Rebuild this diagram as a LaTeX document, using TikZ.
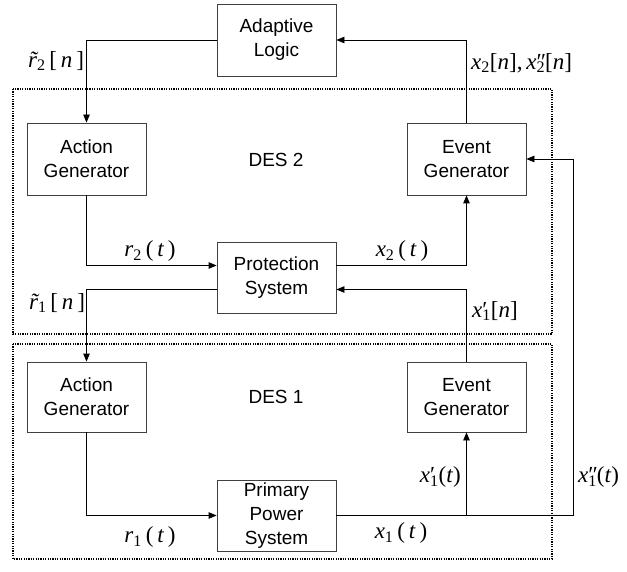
\documentclass[tikz,border=0pt]{standalone}
\usepackage{fontspec}
\setmainfont{Liberation Sans}
\newfontfamily\tms{Liberation Serif}
\usetikzlibrary{arrows.meta}
\newcommand\pss[2]{\rlap{#1}\textsubscript{#2}}
\newcommand\tlr{\textit{\rlap{\hspace{0.06em}\char"02DC}r}}
\begin{document}
\begin{tikzpicture}[x=1pt,y=-1pt,
  blk/.style={draw=black!75, line width=0.8pt, minimum width=119pt, minimum height=71pt,
    align=center, font=\fontsize{19}{24}\selectfont, inner sep=0pt},
  arr/.style={-{Triangle[length=8pt,width=6.5pt]}, line width=0.8pt},
  lbl/.style={font=\tms\fontsize{23}{26}\selectfont, inner sep=0pt},
  deslbl/.style={font=\fontsize{19}{24}\selectfont, inner sep=0pt},
  grp/.style={line width=1.2pt, dash pattern=on 1.2pt off 1.2pt}]
\useasboundingbox (0,0) rectangle (627,572);
% group frames
\draw[grp] (13,89) rectangle (552,334);
\draw[grp] (13,344) rectangle (552,559);
% blocks
\node[blk, minimum height=72pt] (AL) at (276.5,40) {Adaptive\\Logic};
\node[blk, minimum height=72pt] (AG2) at (86.5,159) {Action\\Generator};
\node[blk, minimum height=72pt] (EG2) at (466.5,159) {Event\\Generator};
\node[blk] (PS) at (276.5,277.5) {Protection\\System};
\node[blk, minimum height=70pt] (AG1) at (86.5,397) {Action\\Generator};
\node[blk, minimum height=70pt] (EG1) at (466.5,397) {Event\\Generator};
\node[blk] (PPS) at (276.5,515.5) {Primary\\Power\\System};
\node[deslbl] (D2) at (276,160) {DES 2};
\node[deslbl] (D1) at (276,397) {DES 1};
% connectors
\draw[arr] (AL.west) -| (AG2.north);
\draw[arr] (EG2.north) |- (AL.east);
\draw[arr] (AG2.south) |- ([yshift=12pt]PS.west);
\draw[arr] ([yshift=12pt]PS.east) -| (EG2.south);
\draw[arr] (EG1.north) |- ([yshift=-12pt]PS.east);
\draw[arr] ([yshift=-12pt]PS.west) -| (AG1.north);
\draw[arr] (AG1.south) |- (PPS.west);
\draw[arr] (PPS.east) -| (EG1.south);
\coordinate (J) at (EG1.south |- PPS.east);
\coordinate (RC) at (573,515.5);
\draw[arr] (J) -- (RC) |- (EG2.east);
% labels
\node[lbl] (l1) at (56,61) {\tlr\textsubscript{2}\,[\,\textit{n}\,]};
\node[lbl, anchor=west] (l2) at (471,63) {\textit{x}\textsubscript{2}[\textit{n}],\,\textit{x}\pss{″}{2}[\textit{n}]};
\node[lbl] (l3) at (150,251) {\textit{r}\textsubscript{2}\,(\,\textit{t}\,)};
\node[lbl] (l4) at (402,251) {\textit{x}\textsubscript{2}\,(\,\textit{t}\,)};
\node[lbl, anchor=west] (l5) at (472,311) {\textit{x}\pss{′}{1}[\textit{n}]};
\node[lbl] (l6) at (57,303) {\tlr\textsubscript{1}\,[\,\textit{n}\,]};
\node[lbl, anchor=east] (l7) at (461,477) {\textit{x}\pss{′}{1}(\textit{t})};
\node[lbl, anchor=west] (l8) at (578,477) {\textit{x}\pss{″}{1}(\textit{t})};
\node[lbl] (l9) at (401,533) {\textit{x}\textsubscript{1}\,(\,\textit{t}\,)};
\node[lbl] (l10) at (150,537) {\textit{r}\textsubscript{1}\,(\,\textit{t}\,)};
\end{tikzpicture}
\end{document}
